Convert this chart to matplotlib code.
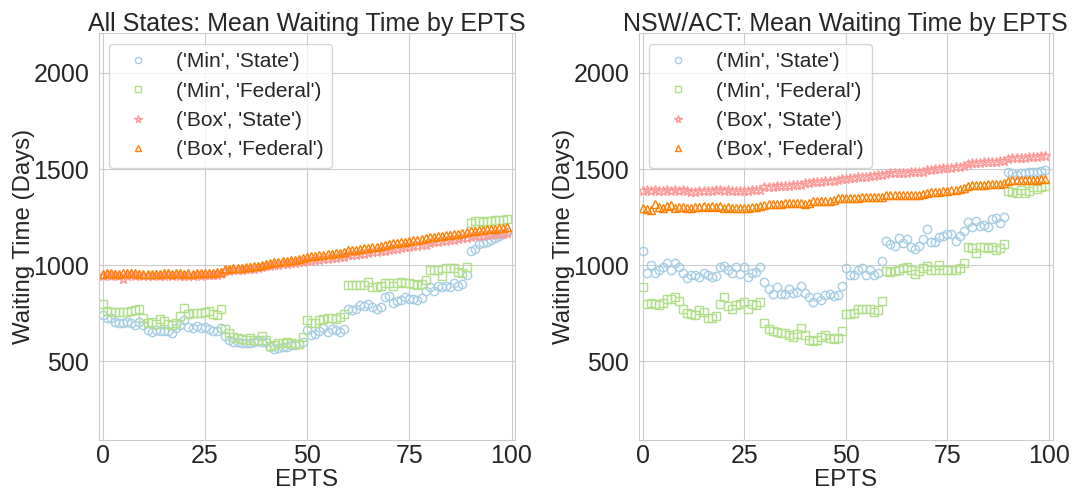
import numpy as np
import matplotlib
matplotlib.use("Agg")
import matplotlib.pyplot as plt
import seaborn as sns

sns.set_style("whitegrid")
plt.rcParams['font.family'] = ['Liberation Sans', 'DejaVu Sans']

epts = list(range(100))

series_labels = ["('Min', 'State')", "('Min', 'Federal')", "('Box', 'State')", "('Box', 'Federal')"]
series_colors = ["#a6cee3", "#b2df8a", "#fb9a99", "#ff7f00"]
series_markers = ["o", "s", "*", "^"]

titles = ["All States: Mean Waiting Time by EPTS", "NSW/ACT: Mean Waiting Time by EPTS"]

# ---- All States ----
all_min_state = [
    740, 722, 725, 705, 698, 700, 703, 700, 690, 702,
    690, 662, 653, 662, 656, 656, 656, 644, 670, 687,
    712, 679, 670, 682, 670, 679, 666, 656, 656, 670,
    630, 609, 600, 600, 597, 595, 592, 600, 605, 598,
    600, 575, 563, 570, 575, 575, 583, 583, 590, 600,
    661, 636, 639, 656, 670, 653, 667, 660, 650, 665,
    771, 766, 771, 792, 788, 795, 783, 774, 780, 835,
    838, 804, 812, 818, 835, 823, 826, 818, 830, 865,
    887, 865, 891, 884, 891, 887, 905, 891, 900, 948,
    1075, 1083, 1108, 1113, 1118, 1130, 1139, 1150, 1160, 1170]
all_min_federal = [
    800, 760, 758, 756, 757, 756, 758, 762, 768, 772,
    726, 700, 706, 694, 720, 708, 692, 688, 700, 734,
    778, 748, 750, 752, 752, 756, 762, 748, 742, 770,
    667, 644, 627, 618, 613, 609, 618, 609, 612, 630,
    609, 580, 583, 592, 597, 601, 592, 587, 590, 627,
    714, 697, 701, 712, 720, 722, 722, 720, 730, 748,
    896, 897, 896, 895, 897, 910, 888, 884, 892, 906,
    905, 892, 905, 910, 905, 905, 899, 896, 900, 922,
    974, 974, 974, 944, 983, 983, 983, 965, 960, 990,
    1217, 1229, 1229, 1222, 1229, 1229, 1233, 1234, 1236, 1238]
all_box_state = [
    945, 947, 944, 946, 943, 930, 945, 947, 944, 946,
    943, 945, 942, 946, 944, 945, 947, 945, 946, 944,
    943, 945, 944, 946, 945, 947, 948, 947, 950, 952,
    968, 970, 972, 974, 976, 978, 980, 982, 985, 988,
    994, 996, 999, 1001, 1004, 1006, 1009, 1011, 1014, 1017,
    1020, 1022, 1025, 1027, 1030, 1032, 1035, 1037, 1040, 1043,
    1050, 1053, 1055, 1058, 1060, 1063, 1066, 1068, 1071, 1074,
    1080, 1083, 1086, 1089, 1092, 1095, 1098, 1101, 1104, 1107,
    1115, 1118, 1121, 1124, 1127, 1130, 1133, 1136, 1139, 1142,
    1148, 1150, 1152, 1154, 1156, 1158, 1160, 1162, 1164, 1166]
all_box_federal = [
    955, 957, 960, 956, 954, 958, 960, 957, 958, 956,
    953, 955, 952, 956, 954, 957, 958, 956, 959, 957,
    955, 957, 956, 958, 957, 959, 961, 960, 963, 966,
    978, 981, 983, 985, 987, 989, 992, 994, 997, 1000,
    1008, 1011, 1014, 1017, 1020, 1023, 1026, 1029, 1032, 1036,
    1043, 1045, 1048, 1050, 1053, 1056, 1058, 1061, 1064, 1068,
    1076, 1079, 1081, 1084, 1087, 1090, 1093, 1096, 1100, 1104,
    1110, 1113, 1116, 1119, 1122, 1125, 1128, 1131, 1135, 1139,
    1145, 1147, 1150, 1153, 1156, 1158, 1161, 1164, 1167, 1170,
    1178, 1180, 1182, 1184, 1186, 1188, 1190, 1192, 1194, 1196]

# ---- NSW/ACT ----
nsw_min_state = [
    1075, 957, 1003, 960, 977, 988, 1012, 974, 1012, 990,
    960, 934, 951, 948, 939, 960, 948, 936, 945, 988,
    995, 974, 960, 991, 953, 991, 939, 957, 965, 991,
    913, 873, 849, 887, 852, 852, 878, 856, 860, 891,
    856, 835, 809, 835, 818, 844, 852, 839, 845, 891,
    983, 948, 948, 977, 983, 948, 974, 948, 960, 1023,
    1125, 1109, 1099, 1139, 1113, 1134, 1095, 1082, 1100, 1135,
    1186, 1122, 1122, 1144, 1151, 1160, 1161, 1125, 1150, 1179,
    1226, 1200, 1231, 1203, 1208, 1196, 1238, 1243, 1220, 1252,
    1486, 1481, 1469, 1477, 1477, 1486, 1486, 1486, 1490, 1495]
nsw_min_federal = [
    887, 800, 804, 795, 792, 804, 821, 821, 835, 815,
    774, 752, 745, 740, 766, 757, 722, 726, 735, 795,
    835, 786, 774, 792, 800, 809, 769, 800, 790, 809,
    696, 665, 656, 653, 648, 644, 635, 627, 640, 670,
    635, 609, 606, 609, 627, 635, 618, 613, 620, 658,
    748, 745, 752, 774, 774, 774, 774, 757, 765, 814,
    969, 965, 969, 977, 983, 988, 974, 953, 970, 983,
    995, 974, 977, 1000, 977, 977, 974, 974, 985, 1009,
    1095, 1087, 1061, 1092, 1095, 1087, 1095, 1078, 1090, 1109,
    1387, 1382, 1373, 1391, 1377, 1387, 1404, 1394, 1408, 1410]
nsw_box_state = [
    1385, 1390, 1388, 1393, 1386, 1384, 1390, 1388, 1392, 1387,
    1390, 1385, 1380, 1382, 1384, 1386, 1388, 1387, 1390, 1392,
    1385, 1390, 1388, 1386, 1384, 1386, 1388, 1390, 1389, 1391,
    1405, 1407, 1408, 1410, 1411, 1412, 1414, 1415, 1416, 1418,
    1425, 1427, 1430, 1432, 1434, 1436, 1438, 1440, 1442, 1446,
    1450, 1452, 1455, 1457, 1459, 1461, 1463, 1465, 1467, 1469,
    1476, 1477, 1478, 1479, 1480, 1481, 1482, 1484, 1485, 1486,
    1494, 1496, 1498, 1500, 1503, 1505, 1507, 1510, 1512, 1515,
    1528, 1530, 1531, 1533, 1534, 1536, 1537, 1539, 1541, 1543,
    1553, 1555, 1556, 1558, 1559, 1561, 1562, 1564, 1566, 1568]
nsw_box_federal = [
    1295, 1290, 1286, 1318, 1304, 1295, 1307, 1312, 1295, 1300,
    1302, 1298, 1295, 1300, 1303, 1305, 1304, 1306, 1303, 1305,
    1298, 1300, 1297, 1296, 1295, 1297, 1299, 1301, 1303, 1305,
    1315, 1317, 1318, 1319, 1320, 1321, 1322, 1323, 1324, 1325,
    1318, 1325, 1332, 1336, 1335, 1333, 1336, 1340, 1348, 1347,
    1347, 1349, 1350, 1351, 1352, 1353, 1354, 1355, 1355, 1356,
    1363, 1364, 1364, 1365, 1365, 1366, 1366, 1367, 1367, 1368,
    1377, 1379, 1381, 1383, 1386, 1388, 1390, 1393, 1396, 1399,
    1414, 1415, 1417, 1418, 1419, 1420, 1421, 1422, 1424, 1425,
    1440, 1441, 1442, 1443, 1443, 1444, 1445, 1445, 1446, 1447]

panels = [
    [all_min_state, all_min_federal, all_box_state, all_box_federal],
    [nsw_min_state, nsw_min_federal, nsw_box_state, nsw_box_federal],
]

fig = plt.figure(figsize=(10.81, 4.94), dpi=100)
axes = [fig.add_axes([0.0915, 0.1087, 0.3851, 0.8237]),
        fig.add_axes([0.5910, 0.1087, 0.3828, 0.8237])]

for ax, data, title in zip(axes, panels, titles):
    for vals, lab, col, mk in zip(data, series_labels, series_colors, series_markers):
        ms = 7.5 if mk == "*" else 6
        ax.plot(epts, vals, linestyle="none", marker=mk, markersize=ms,
                markerfacecolor="none", markeredgecolor=col, markeredgewidth=1.0,
                label=lab)
    ax.set_xlim(-0.9, 100.9)
    ax.set_ylim(88, 2206)
    ax.set_xticks([0, 25, 50, 75, 100])
    ax.set_yticks([500, 1000, 1500, 2000])
    ax.tick_params(labelsize=18, colors="#262626")
    ax.tick_params(axis="x", pad=-0.5)
    ax.set_xlabel("EPTS", fontsize=17.5, color="#262626", labelpad=0.5)
    ax.set_ylabel("Waiting Time (Days)", fontsize=17.3, color="#262626", labelpad=-1.5)
    ax.set_title(title, fontsize=18, color="#262626", pad=2)
    leg = ax.legend(loc="upper left", fontsize=15, markerscale=0.75)
    for t in leg.get_texts():
        t.set_color("#262626")

fig.savefig("out.png", dpi=100)
